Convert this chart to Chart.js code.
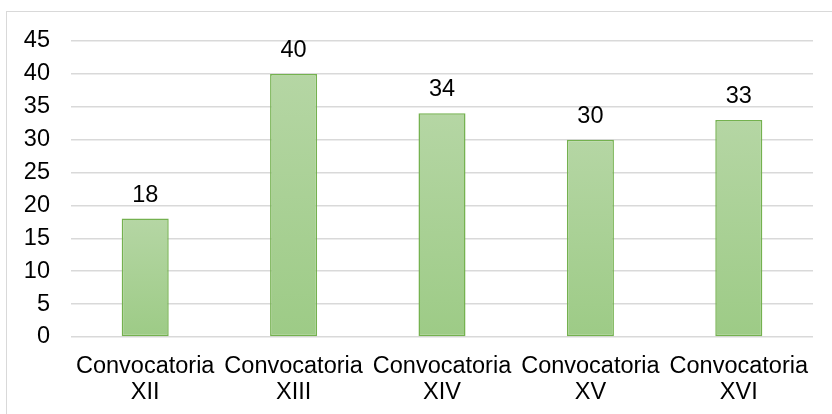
<!DOCTYPE html>
<html>
<head>
<meta charset="utf-8">
<script src="https://cdn.jsdelivr.net/npm/chart.js@4"></script>
<style>
html,body{margin:0;padding:0;background:#fff;}
#wrap{position:relative;width:832px;height:414px;overflow:hidden;}
#frame{position:absolute;left:6px;top:11px;width:900px;height:500px;border:1px solid #D9D9D9;box-sizing:border-box;}
canvas{position:absolute;left:0;top:0;}
</style>
</head>
<body>
<div id="wrap"><div id="frame"></div><canvas id="c" width="832" height="414"></canvas></div>
<script>
const categories = [["Convocatoria","XII"],["Convocatoria","XIII"],["Convocatoria","XIV"],["Convocatoria","XV"],["Convocatoria","XVI"]];
const values = [18, 40, 34, 30, 33];
const yTicks = [0, 5, 10, 15, 20, 25, 30, 35, 40, 45];

const FONT = "'Liberation Sans', Arial, sans-serif";
const FS = 23.5;

const labelPlugin = {
  id: 'valueLabels',
  afterDatasetsDraw(chart) {
    const ctx = chart.ctx;
    const meta = chart.getDatasetMeta(0);
    ctx.save();
    ctx.font = FS + "px " + FONT;
    ctx.fillStyle = "#000";
    ctx.textAlign = "center";
    ctx.textBaseline = "alphabetic";
    meta.data.forEach((bar, i) => {
      ctx.fillText(String(values[i]), bar.x, bar.y - 17);
    });
    ctx.restore();
  }
};

function barGradient(context) {
  const chart = context.chart;
  if (!chart.chartArea) return '#A9D18E';
  const ys = chart.scales.y;
  const top = ys.getPixelForValue(context.raw);
  const bottom = ys.getPixelForValue(0);
  const g = chart.ctx.createLinearGradient(0, top, 0, bottom);
  g.addColorStop(0, '#B5D6A4');
  g.addColorStop(1, '#9DCB86');
  return g;
}

new Chart(document.getElementById('c'), {
  type: 'bar',
  data: {
    labels: categories,
    datasets: [{
      data: values,
      backgroundColor: barGradient,
      borderColor: '#74B14F',
      borderWidth: 1.5,
      borderSkipped: false,
      barPercentage: 1,
      categoryPercentage: 0.317
    }]
  },
  options: {
    responsive: false,
    animation: false,
    devicePixelRatio: 1,
    layout: { padding: { top: 41, right: 19, left: 0, bottom: 0 } },
    plugins: { legend: { display: false }, tooltip: { enabled: false } },
    scales: {
      y: {
        min: 0, max: 45,
        afterBuildTicks(scale) { scale.ticks = yTicks.map(v => ({ value: v })); },
        afterFit(scale) { scale.width = 71; },
        border: { display: false },
        grid: { color: '#D9D9D9', lineWidth: 1.5, drawTicks: false },
        ticks: { color: '#000', font: { family: FONT, size: FS }, padding: 21 }
      },
      x: {
        afterFit(scale) { scale.height = 77; },
        border: { display: false },
        grid: { display: false, drawTicks: false },
        ticks: { color: '#000', font: { family: FONT, size: FS, lineHeight: 1.08 }, padding: 17, maxRotation: 0, autoSkip: false }
      }
    }
  },
  plugins: [labelPlugin]
});
</script>
</body>
</html>
